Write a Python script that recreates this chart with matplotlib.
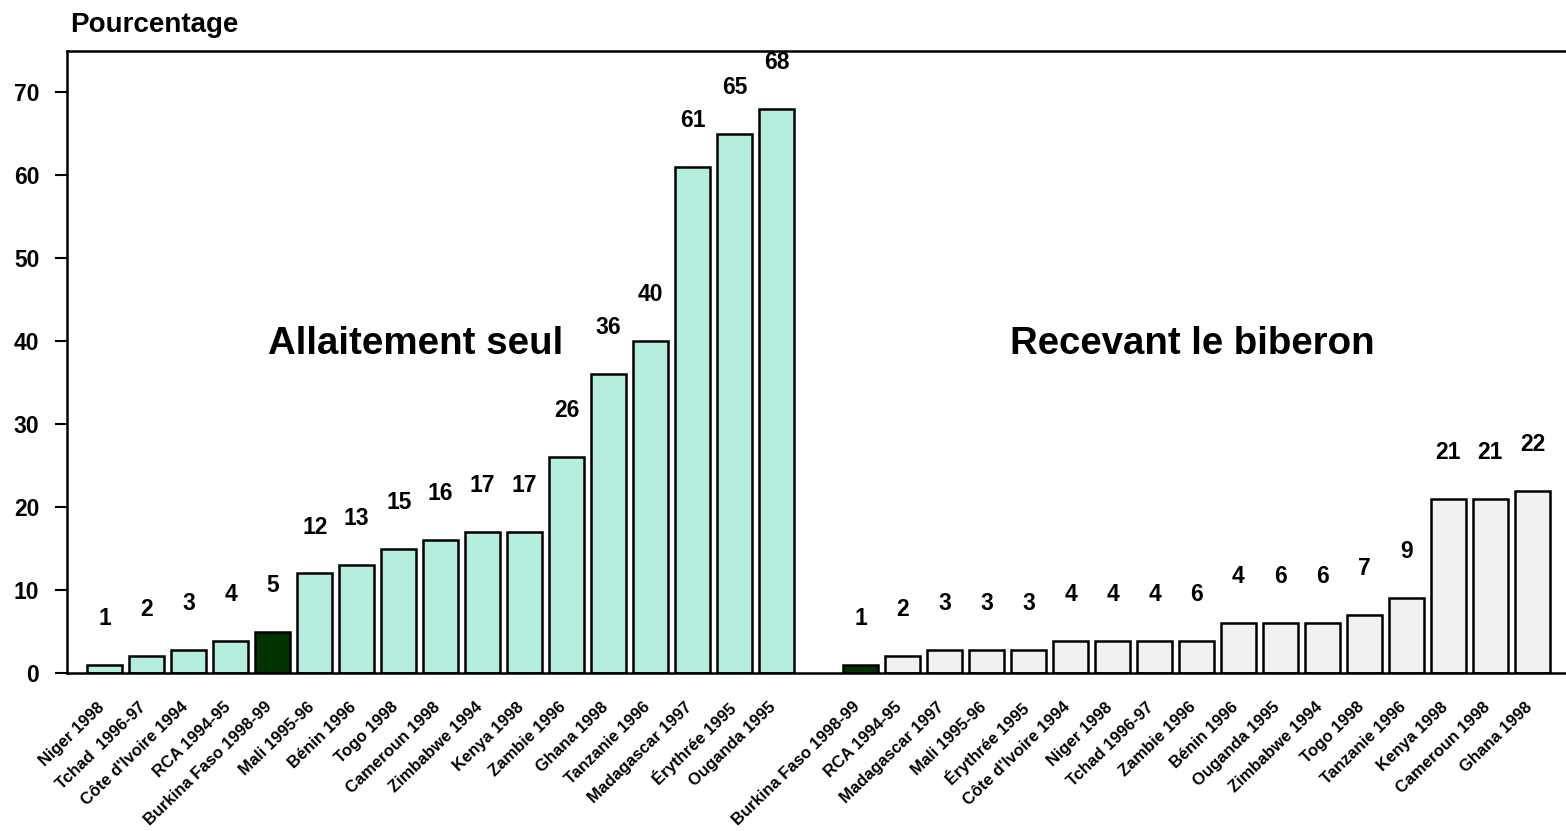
import matplotlib
matplotlib.use("Agg")
import matplotlib.pyplot as plt
import matplotlib.transforms as mtransforms
import numpy as np

plt.rcParams['font.family'] = ['Liberation Sans', 'DejaVu Sans']
plt.rcParams['font.weight'] = 'bold'

# --- data ---
left_categories = ["Niger 1998", "Tchad  1996-97", "Côte d'Ivoire 1994", "RCA 1994-95",
                   "Burkina Faso 1998-99", "Mali 1995-96", "Bénin 1996", "Togo 1998",
                   "Cameroun 1998", "Zimbabwe 1994", "Kenya 1998", "Zambie 1996",
                   "Ghana 1998", "Tanzanie 1996", "Madagascar 1997", "Érythrée 1995",
                   "Ouganda 1995"]
left_values = [1, 2, 2.8, 3.9, 5, 12, 13, 15, 16, 17, 17, 26, 36, 40, 61, 65, 68]
left_labels = ["1", "2", "3", "4", "5", "12", "13", "15", "16", "17", "17", "26",
               "36", "40", "61", "65", "68"]

right_categories = ["Burkina Faso 1998-99", "RCA 1994-95", "Madagascar 1997", "Mali 1995-96",
                    "Érythrée 1995", "Côte d'Ivoire 1994", "Niger 1998", "Tchad 1996-97",
                    "Zambie 1996", "Bénin 1996", "Ouganda 1995", "Zimbabwe 1994",
                    "Togo 1998", "Tanzanie 1996", "Kenya 1998", "Cameroun 1998", "Ghana 1998"]
right_values = [1, 2, 2.8, 2.8, 2.8, 3.9, 3.9, 3.9, 3.9, 6, 6, 6, 7, 9, 21, 21, 22]
right_labels = ["1", "2", "3", "3", "3", "4", "4", "4", "6", "4", "6", "6", "7", "9",
                "21", "21", "22"]

highlight = "Burkina Faso 1998-99"
group_titles = ["Allaitement seul", "Recevant le biberon"]
yticks = [0, 10, 20, 30, 40, 50, 60, 70]

# --- figure ---
fig = plt.figure(figsize=(15.66, 8.31), dpi=100)
ax = fig.add_axes([67/1566, 1 - 673/831, 1 - 67/1566, (673 - 51)/831])

n_left = len(left_categories)
x_left = np.arange(n_left)
x_right = np.arange(len(right_categories)) + n_left + 1

col_left = "#b5eedf"
col_right = "#f1f1f1"
col_hi = "#003300"

cl = [col_hi if c == highlight else col_left for c in left_categories]
cr = [col_hi if c == highlight else col_right for c in right_categories]

ax.bar(x_left, left_values, width=0.83, color=cl, edgecolor="black", linewidth=1.8, zorder=2)
ax.bar(x_right, right_values, width=0.83, color=cr, edgecolor="black", linewidth=1.8, zorder=2)

off = 5.6
for x, v, t in zip(x_left, left_values, left_labels):
    ax.text(x, v + off, t, ha="center", va="center", fontsize=16.5, fontweight="bold")
for x, v, t in zip(x_right, right_values, right_labels):
    ax.text(x, v + off, t, ha="center", va="center", fontsize=16.5, fontweight="bold")

ax.set_xlim(-0.9, 34.8)
ax.set_ylim(0, 75)

ax.set_xticks(list(x_left) + list(x_right))
ax.set_xticklabels(left_categories + right_categories, rotation=44, ha="right",
                   rotation_mode="anchor", fontsize=12, fontweight="bold")
ax.tick_params(axis="x", length=0, pad=19)
shift = mtransforms.ScaledTranslation(-8/100, 0, fig.dpi_scale_trans)
for lbl in ax.get_xticklabels():
    lbl.set_transform(lbl.get_transform() + shift)

ax.set_yticks(yticks)
ax.set_yticklabels([str(t) for t in yticks], fontsize=16.5, fontweight="bold")
ax.tick_params(axis="y", length=9, width=1.5, pad=11, direction="out")

for s in ["left", "bottom", "top"]:
    ax.spines[s].set_linewidth(1.8)
ax.spines["right"].set_visible(False)

ax.text(7.4, 38.5, group_titles[0], ha="center", va="baseline", fontsize=27.7, fontweight="bold")
ax.text(25.9, 38.5, group_titles[1], ha="center", va="baseline", fontsize=27.6, fontweight="bold")

fig.text(70/1566, 1 - 25/831, "Pourcentage", ha="left", va="center", fontsize=20, fontweight="bold")

fig.savefig("out.png", dpi=100)
